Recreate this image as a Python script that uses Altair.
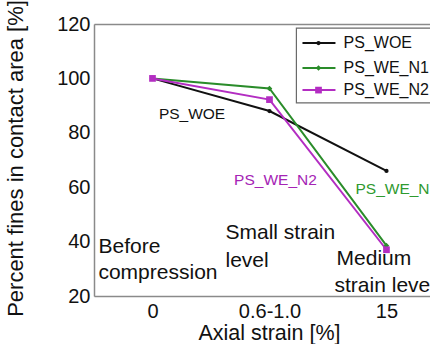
import altair as alt
import pandas as pd

# ---- data ----
strain_pos = [0, 1, 2]
strain_labels = ["0", "0.6-1.0", "15"]
series_names = ["PS_WOE", "PS_WE_N1", "PS_WE_N2"]
ps_woe = [100, 88, 66]
ps_we_n1 = [100, 96.3, 38.5]
ps_we_n2 = [100, 92.2, 37]

colors = ["#111111", "#2a8c2a", "#b32dc2"]
label_colors = ["#111111", "#2f9a2f", "#a524b5"]
shapes = ["circle", "diamond", "square"]

FONT = "Liberation Sans"

rows = []
for name, vals in zip(series_names, [ps_woe, ps_we_n1, ps_we_n2]):
    for xp, v in zip(strain_pos, vals):
        rows.append({"series": name, "x": xp, "y": v})
df = pd.DataFrame(rows)

color_scale = alt.Scale(domain=series_names, range=colors)
shape_scale = alt.Scale(domain=series_names, range=shapes)
size_scale = alt.Scale(domain=series_names, range=[18, 45, 32])

xscale = alt.Scale(domain=[-0.5, 2.372], nice=False, zero=False)
yscale = alt.Scale(domain=[20, 120], nice=False, zero=False)

label_expr = "[" + ",".join("'%s'" % s for s in strain_labels) + "][datum.value]"

x_axis = alt.Axis(values=strain_pos, labelExpr=label_expr, grid=False, ticks=False,
                  labelFont=FONT, labelFontSize=20, labelColor="#111", labelPadding=5,
                  domainColor="#8a8a8a", domainWidth=1.5,
                  title="Axial strain [%]", titleFont=FONT, titleFontSize=21.5,
                  titleFontWeight="normal", titleColor="#111", titleX=175, titlePadding=1)
y_axis = alt.Axis(values=[20, 40, 60, 80, 100, 120], grid=False, ticks=False,
                  labelFont=FONT, labelFontSize=20, labelColor="#111", labelPadding=4,
                  domainColor="#8a8a8a", domainWidth=1.5,
                  title="Percent fines in contact area [%]", titleFont=FONT, titleFontSize=22,
                  titleFontWeight="normal", titleColor="#111", titleX=-79, titleY=134,
                  titleBaseline="middle")

base = alt.Chart(df)

lines = base.mark_line(strokeWidth=2).encode(
    x=alt.X("x:Q", scale=xscale, axis=x_axis),
    y=alt.Y("y:Q", scale=yscale, axis=y_axis),
    color=alt.Color("series:N", scale=color_scale, legend=None),
    detail="series:N",
)
points = base.mark_point(filled=True, opacity=1).encode(
    x=alt.X("x:Q", scale=xscale, axis=None),
    y=alt.Y("y:Q", scale=yscale, axis=y_axis),
    color=alt.Color("series:N", scale=color_scale, legend=None),
    shape=alt.Shape("series:N", scale=shape_scale, legend=None),
    size=alt.Size("series:N", scale=size_scale, legend=None),
)

# top frame line (axis on top without labels)
top_frame = base.mark_point(opacity=0).encode(
    x=alt.X("x:Q", scale=xscale,
            axis=alt.Axis(orient="top", labels=False, ticks=False, title=None, grid=False,
                          domainColor="#8a8a8a", domainWidth=1.5, values=strain_pos)),
    y=alt.Y("y:Q", scale=yscale, axis=y_axis),
)

# ---- annotations ----
ann_text = ["Before", "compression", "Small strain", "level", "Medium", "strain level"]
ann_x = [-0.462, -0.462, 0.624, 0.624, 1.573, 1.556]
ann_y = [35.8, 26.3, 41.0, 30.7, 31.4, 21.5]
ann_df = pd.DataFrame({"t": ann_text, "x": ann_x, "y": ann_y})
annotations = alt.Chart(ann_df).mark_text(
    align="left", baseline="alphabetic", font=FONT, fontSize=21, color="#111"
).encode(
    x=alt.X("x:Q", scale=xscale, axis=None),
    y=alt.Y("y:Q", scale=yscale, axis=y_axis),
    text="t:N",
)

# series labels on the plot
sl_text = ["PS_WOE", "PS_WE_N2", "PS_WE_N1"]
sl_x = [0.338, 1.051, 1.735]
sl_y = [86.9, 62.6, 59.3]
sl_align = ["center", "center", "left"]
sl_color = [label_colors[0], label_colors[2], label_colors[1]]
series_labels = []
for t, xx, yy, al, c in zip(sl_text, sl_x, sl_y, sl_align, sl_color):
    series_labels.append(
        alt.Chart(pd.DataFrame({"t": [t], "x": [xx], "y": [yy]})).mark_text(
            align=al, baseline="middle", font=FONT, fontSize=15.5, color=c
        ).encode(
            x=alt.X("x:Q", scale=xscale, axis=None),
            y=alt.Y("y:Q", scale=yscale, axis=y_axis),
            text="t:N",
        )
    )

# ---- legend (manual) ----
leg_box = alt.Chart(pd.DataFrame({"x": [1.23], "x2": [2.7], "y": [118.5], "y2": [91.0]})).mark_rect(
    fill="white", stroke="#6a6a6a", strokeWidth=1.2
).encode(
    x=alt.X("x:Q", scale=xscale, axis=None), x2="x2:Q",
    y=alt.Y("y:Q", scale=yscale, axis=y_axis), y2="y2:Q",
)
leg_rows_y = [113.0, 103.8, 95.7]
leg_line_df = pd.DataFrame({
    "series": series_names * 2,
    "x": [1.282] * 3 + [1.564] * 3,
    "y": leg_rows_y * 2,
})
leg_lines = alt.Chart(leg_line_df).mark_line(strokeWidth=2).encode(
    x=alt.X("x:Q", scale=xscale, axis=None),
    y=alt.Y("y:Q", scale=yscale, axis=y_axis),
    color=alt.Color("series:N", scale=color_scale, legend=None),
    detail="series:N",
)
leg_pt_df = pd.DataFrame({"series": series_names, "x": [1.419] * 3, "y": leg_rows_y})
leg_points = alt.Chart(leg_pt_df).mark_point(filled=True, opacity=1).encode(
    x=alt.X("x:Q", scale=xscale, axis=None),
    y=alt.Y("y:Q", scale=yscale, axis=y_axis),
    color=alt.Color("series:N", scale=color_scale, legend=None),
    shape=alt.Shape("series:N", scale=shape_scale, legend=None),
    size=alt.Size("series:N", scale=size_scale, legend=None),
)
leg_text_df = pd.DataFrame({"t": series_names, "x": [1.633] * 3, "y": leg_rows_y})
leg_text = alt.Chart(leg_text_df).mark_text(
    align="left", baseline="middle", font=FONT, fontSize=16, color="#111"
).encode(
    x=alt.X("x:Q", scale=xscale, axis=None),
    y=alt.Y("y:Q", scale=yscale, axis=y_axis),
    text="t:N",
)

chart = alt.layer(
    lines, top_frame, points, annotations, *series_labels,
    leg_box, leg_lines, leg_points, leg_text
).resolve_axis(x="independent").properties(
    width=336, height=272,
    autosize=alt.AutoSizeParams(type="none"),
    padding={"left": 94, "top": 24, "right": 0, "bottom": 48},
).configure_view(stroke=None).configure(background="white")

chart.save("out.html", embed_options={"renderer": "svg", "actions": False})
